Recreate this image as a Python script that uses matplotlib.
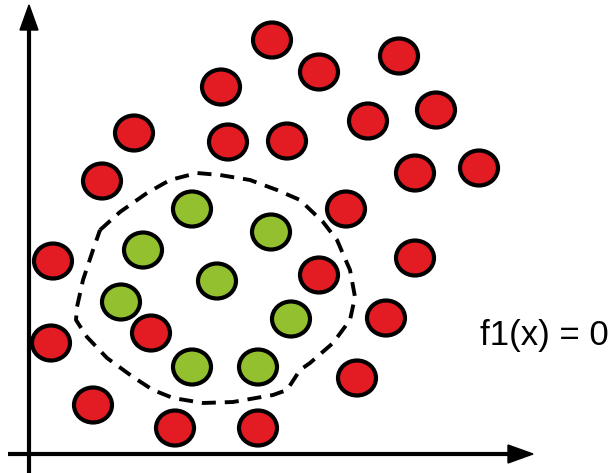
import matplotlib
matplotlib.use("Agg")
import matplotlib.pyplot as plt
from matplotlib.patches import Ellipse, Polygon

plt.rcParams['font.family'] = ['Liberation Sans', 'DejaVu Sans']

# point positions (picture units, y down)
red_x = [272, 319, 399, 221, 134, 228, 287, 368, 436, 102, 415, 479, 346,
         53, 319, 415, 51, 151, 386, 357, 93, 175, 258]
red_y = [40, 72, 56, 87, 133, 142, 141, 121, 110, 181, 173, 168, 209,
         261, 275, 258, 343, 333, 318, 378, 405, 428, 428]
green_x = [192, 271, 143, 217, 121, 291, 192, 258]
green_y = [209, 232, 250, 281, 302, 319, 367, 367]

# decision boundary f1(x) = 0
bound_x = [100, 120, 147, 170, 197, 220, 250, 277, 300, 323, 337, 350, 355,
           350, 333, 310, 300, 287, 273, 233, 203, 173, 153, 133, 107, 87,
           76, 77, 83, 93, 100]
bound_y = [230, 212, 193, 180, 173, 175, 180, 190, 200, 222, 240, 270, 297,
           320, 343, 363, 370, 390, 395, 402, 403, 398, 390, 377, 358, 337,
           320, 307, 280, 250, 230]

label = "f1(x) = 0"

fig = plt.figure(figsize=(6.15, 4.73), dpi=100)
ax = fig.add_axes([0, 0, 1, 1])
ax.set_xlim(0, 615)
ax.set_ylim(473, 0)
ax.axis('off')

# axes with arrows
ax.plot([29, 29], [473, 28], color='black', lw=3, solid_capstyle='butt')
ax.add_patch(Polygon([[29, 5], [20, 30], [38, 30]], closed=True, color='black'))
ax.plot([8, 510], [454, 454], color='black', lw=3, solid_capstyle='butt')
ax.add_patch(Polygon([[533, 454], [508, 445], [508, 463]], closed=True, color='black'))

ax.plot(bound_x, bound_y, color='black', lw=2.8, linestyle=(0, (3.6, 2.3)), zorder=2)

for x, y in zip(red_x, red_y):
    ax.add_patch(Ellipse((x, y), 38, 35, facecolor='#e31b23', edgecolor='black', lw=3, zorder=3))
for x, y in zip(green_x, green_y):
    ax.add_patch(Ellipse((x, y), 38, 35, facecolor='#92c02e', edgecolor='black', lw=3, zorder=3))

ax.text(480, 345, label, fontsize=25, va='baseline', ha='left')

fig.savefig('out.png', dpi=100)
